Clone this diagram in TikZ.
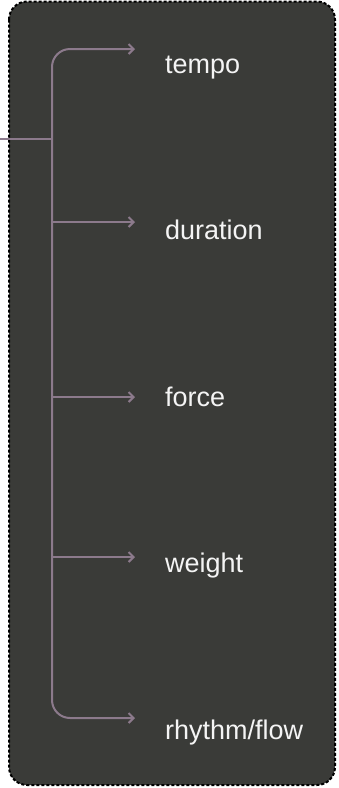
\documentclass[tikz,border=0pt]{standalone}
\usepackage{fontspec}
\setmainfont{Liberation Sans}
\usetikzlibrary{arrows.meta}
\definecolor{boxbg}{HTML}{3A3B38}
\definecolor{connc}{HTML}{8C7A8C}
\definecolor{txtc}{HTML}{F4F4F4}
\tikzset{
  conn/.style={draw=connc, line width=2pt},
  arr/.style={conn, -{Straight Barb[length=5pt,width=10pt,line width=2pt]}},
  lbl/.style={anchor=base west, inner sep=0pt, text=txtc, font=\fontsize{27}{31}\selectfont},
  frame/.style={draw=black, fill=boxbg, line width=2pt, dash pattern=on 3pt off 2pt, rounded corners=18pt}
}
\begin{document}
\begin{tikzpicture}[x=1pt,y=-1pt]
\useasboundingbox (0,0) rectangle (339,788);
\draw[frame] (9,1.5) rectangle (335,785);
\coordinate (root) at (0,139);
\coordinate (j) at (52,139);
\coordinate (a1) at (135,49);
\coordinate (a2) at (135,222);
\coordinate (a3) at (135,397);
\coordinate (a4) at (135,557);
\coordinate (a5) at (135,718);
\node[lbl] (tempo) at (165,73) {tempo};
\node[lbl] (duration) at (165,239.5) {duration};
\node[lbl] (force) at (165,406) {force};
\node[lbl] (weight) at (165,572.5) {weight};
\node[lbl] (rhythm) at (165,739) {rhythm/flow};
\draw[conn] (root) -- (j);
\draw[arr, rounded corners=18pt] (j) |- (a1);
\draw[arr, rounded corners=18pt] (j) |- (a5);
\draw[arr] (j |- a2) -- (a2);
\draw[arr] (j |- a3) -- (a3);
\draw[arr] (j |- a4) -- (a4);
\end{tikzpicture}
\end{document}
